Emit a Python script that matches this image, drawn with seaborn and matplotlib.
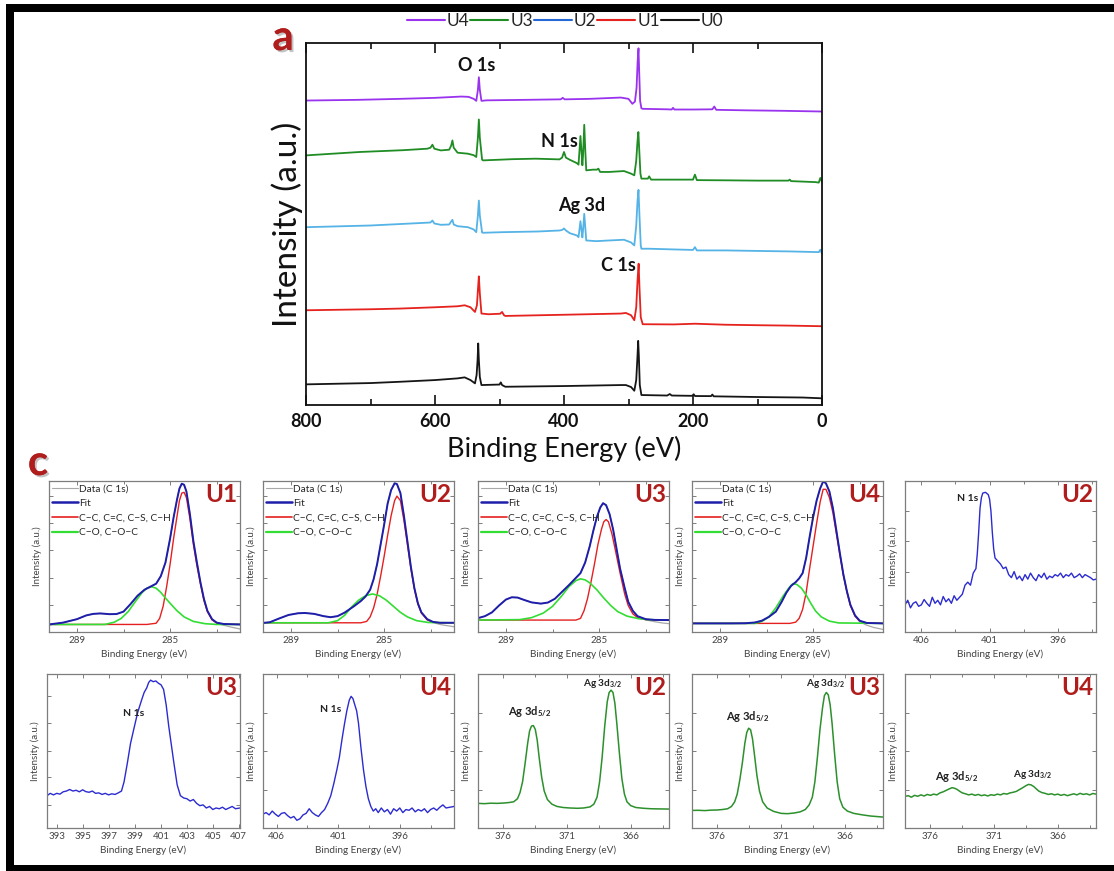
import numpy as np
import matplotlib
matplotlib.use("Agg")
import matplotlib.pyplot as plt
import seaborn as sns
from matplotlib.lines import Line2D
from matplotlib.patches import Rectangle
from matplotlib.ticker import FixedLocator
import matplotlib.patheffects as pe

sns.set_style("ticks")
plt.rcParams["font.family"] = ["Lato", "DejaVu Sans"]
plt.rcParams["mathtext.fontset"] = "custom"
plt.rcParams["mathtext.rm"] = "Lato"
plt.rcParams["mathtext.bf"] = "Lato:bold"
plt.rcParams["mathtext.it"] = "Lato:italic"

# ---------------- survey spectra (panel a) : [binding energy eV, stacked intensity a.u.]
survey_labels = ["U4", "U3", "U2", "U1", "U0"]
survey_U4 = np.array([[800,305.3],[720,306],[654,307],[600,308],[559,309.3],[548,309],[540,307],[536,305],
    [533.5,316],[532,328.7],[530.5,316],[528,305],[520,305.5],[460,306],[405,306.5],[402,308],[399,306.5],
    [360,307],[312,308.3],[300,307],[294,302],[290,304.3],[287.5,318],[285.8,345],[284.5,357.7],[283.5,336],
    [282,305],[280,297.5],[278,297],[240,296.5],[233,296.3],[231,298],[229,296.3],[200,296.3],[170,296.5],
    [167,299.3],[164,296],[120,295.5],[60,295],[0,294.3]])
survey_U3 = np.array([[800,250.3],[717,253.7],[650,255.5],[612,257],[607,258],[604,261],[601,257],[591,255.3],
    [578,256],[575,260],[573,265.3],[571,258],[565,253],[549,252],[540,250.5],[536,248.7],[533.5,268],[532,286.3],
    [530.5,268],[527,246],[525.5,245.3],[480,246.5],[444,247],[407,246.3],[403,248],[400,253.7],[397,248],
    [391,245.9],[380,242.5],[377.5,241],[376,255],[374.5,269.7],[373,255],[371.5,240.4],[370.5,250],[368.6,281],
    [367,255],[365.5,235.3],[355,236],[349,236],[346.7,237],[344,233.7],[330,233.7],[307,234.6],[296,232],
    [291,230.3],[288,245],[286,265],[284.7,273.7],[283.5,258],[281.5,232],[280,227],[270,227],[268,229.3],
    [265,226],[240,226],[200,226],[197,231],[194,225.5],[150,225.3],[100,225],[52,225],[50,226],[48,224.5],
    [10,223.5],[5,223],[2.6,227.7],[0,223.7]])
survey_U2 = np.array([[800,178.3],[700,180],[628,182.3],[607,183],[604,185],[601,182],[591,180.7],[578,181],
    [575,184],[573,185.7],[571,181],[565,179.3],[549,178.3],[540,176],[536,173.3],[533.5,190],[532,205],
    [530.5,190],[527,173],[525.5,172.7],[496,173.3],[440,174],[407,175],[403,175.5],[400,177],[397,175],
    [391,172.3],[380,170],[377.5,168.3],[376,176],[374.5,184.3],[373,176],[371.5,168],[370.5,175],[368.6,191.7],
    [367,178],[365.5,165],[350,164.3],[330,165],[307,165.7],[296,163],[291,160],[288,180],[286,205],
    [284.5,215.7],[283,190],[281,160],[280,156.7],[268,156.7],[230,156],[200,155.5],[197,158.3],[194,155],
    [150,155],[100,154.5],[50,154],[5,153.3],[2.6,155.7],[0,151.7]])
survey_U1 = np.array([[800,95],[700,96],[654,96.7],[600,98],[565,99],[554,100],[545,98],[538,93.3],[535,100],
    [533.5,115],[532,129],[530.5,112],[528,91.7],[517,91],[499,91.5],[496,93.3],[493,90],[491,89.3],[400,90.5],
    [312,91.7],[304,92.3],[296,90],[291,85],[288,98],[286,125],[284.3,141.7],[283,118],[281,88],[278,81],
    [230,80.8],[197,81.5],[150,80.5],[100,80],[50,79.6],[0,79]])
survey_U0 = np.array([[800,20.7],[700,22],[654,23.3],[600,25],[565,26.7],[554,27.7],[545,25],[538,21.7],
    [535.5,30],[534,45],[533,61.7],[532,45],[530.5,28],[528,20],[500,20.5],[498,22.7],[496,20],[491,18.3],
    [400,19],[312,20],[304,20],[296,18],[291,14.3],[288,25],[286,50],[285,64.3],[284,50],[282.5,20],[280,10],
    [240,9.5],[236,11],[233,9.5],[201,9.2],[199,10.8],[197,9],[172,8.9],[170,10.5],[168,8.7],[100,8],[30,7.5],[0,6.7]])
survey_peaks = ["O 1s", "N 1s", "Ag 3d", "C 1s"]

# ---------------- C 1s high resolution (normalised intensity)
c1s_legend = ["Data (C 1s)", "Fit", "C\u2212C, C=C, C\u2212S, C\u2212H", "C\u2212O, C\u2212O\u2212C"]
U1_fit = np.array([[290.2,0.05],[289.6,0.062],[289.0,0.085],[288.6,0.11],[288.3,0.12],[288.0,0.123],[287.6,0.118],
    [287.3,0.119],[287.0,0.135],[286.7,0.185],[286.4,0.24],[286.1,0.28],[285.85,0.30],[285.6,0.32],[285.4,0.37],
    [285.2,0.46],[285.0,0.62],[284.85,0.76],[284.7,0.88],[284.6,0.95],[284.5,0.982],[284.4,0.975],[284.3,0.93],
    [284.15,0.78],[284.0,0.6],[283.85,0.46],[283.7,0.33],[283.55,0.22],[283.4,0.14],[283.2,0.085],[283.0,0.062],
    [282.7,0.053],[282.0,0.05]])
U1_data = np.array([[290.2,0.047],[289.6,0.062],[289.0,0.085],[288.6,0.11],[288.3,0.12],[288.0,0.123],[287.6,0.118],
    [287.3,0.119],[287.0,0.135],[286.7,0.185],[286.4,0.24],[286.1,0.28],[285.85,0.30],[285.6,0.32],[285.4,0.37],
    [285.2,0.46],[285.0,0.62],[284.85,0.76],[284.7,0.88],[284.6,0.95],[284.5,0.982],[284.4,0.975],[284.3,0.93],
    [284.15,0.78],[284.0,0.6],[283.85,0.46],[283.7,0.33],[283.55,0.22],[283.4,0.14],[283.2,0.083],[283.0,0.058],
    [282.7,0.045],[282.4,0.033],[282.0,0.02]])
U1_cc = np.array([[290.2,0.05],[286.0,0.05],[285.6,0.058],[285.45,0.09],[285.3,0.17],[285.15,0.30],[285.0,0.45],
    [284.85,0.62],[284.7,0.77],[284.6,0.87],[284.5,0.92],[284.4,0.925],[284.3,0.89],[284.15,0.75],[284.0,0.58],
    [283.85,0.44],[283.7,0.32],[283.55,0.21],[283.4,0.135],[283.2,0.08],[283.0,0.06],[282.7,0.052],[282.0,0.05]])
U1_co = np.array([[290.2,0.05],[287.8,0.05],[287.4,0.065],[287.1,0.09],[286.8,0.135],[286.5,0.2],[286.2,0.262],
    [286.0,0.29],[285.8,0.30],[285.6,0.29],[285.4,0.262],[285.2,0.225],[285.0,0.19],[284.7,0.14],[284.4,0.1],
    [284.0,0.07],[283.5,0.055],[283.0,0.05],[282.0,0.05]])

U2_fit = np.array([[290.2,0.06],[289.9,0.065],[289.5,0.09],[289.1,0.113],[288.7,0.124],[288.4,0.126],[288.0,0.12],
    [287.6,0.105],[287.3,0.098],[287.0,0.105],[286.7,0.128],[286.3,0.17],[286.0,0.205],[285.8,0.235],[285.6,0.28],
    [285.45,0.35],[285.3,0.45],[285.15,0.58],[285.0,0.71],[284.85,0.85],[284.7,0.94],[284.55,0.985],[284.45,0.98],
    [284.3,0.92],[284.15,0.77],[284.0,0.6],[283.85,0.43],[283.7,0.29],[283.55,0.19],[283.4,0.13],[283.15,0.085],
    [282.9,0.067],[282.6,0.061],[282.0,0.061]])
U2_data = np.array([[290.2,0.058],[289.9,0.065],[289.5,0.09],[289.1,0.113],[288.7,0.124],[288.4,0.126],[288.0,0.12],
    [287.6,0.105],[287.3,0.098],[287.0,0.105],[286.7,0.128],[286.3,0.17],[286.0,0.205],[285.8,0.235],[285.6,0.28],
    [285.45,0.35],[285.3,0.45],[285.15,0.58],[285.0,0.71],[284.85,0.85],[284.7,0.94],[284.55,0.985],[284.45,0.98],
    [284.3,0.92],[284.15,0.77],[284.0,0.6],[283.85,0.43],[283.7,0.29],[283.55,0.19],[283.4,0.13],[283.15,0.083],
    [282.9,0.062],[282.6,0.05],[282.3,0.042],[282.0,0.035]])
U2_cc = np.array([[290.2,0.061],[286.0,0.061],[285.75,0.07],[285.6,0.1],[285.45,0.16],[285.3,0.25],[285.15,0.37],
    [285.0,0.5],[284.85,0.64],[284.7,0.77],[284.55,0.87],[284.45,0.9],[284.3,0.87],[284.15,0.74],[284.0,0.58],
    [283.85,0.42],[283.7,0.285],[283.55,0.185],[283.4,0.125],[283.15,0.08],[282.9,0.065],[282.6,0.061],[282.0,0.061]])
U2_co = np.array([[290.2,0.061],[287.4,0.061],[287.0,0.075],[286.7,0.11],[286.4,0.165],[286.1,0.21],[285.8,0.24],
    [285.5,0.252],[285.2,0.24],[284.9,0.21],[284.6,0.17],[284.3,0.13],[284.0,0.1],[283.6,0.075],[283.1,0.063],
    [282.0,0.061]])

U3_fit = np.array([[290.2,0.092],[289.9,0.105],[289.6,0.13],[289.3,0.175],[289.0,0.215],[288.75,0.23],[288.5,0.228],
    [288.25,0.214],[287.9,0.196],[287.5,0.188],[287.2,0.195],[286.9,0.22],[286.6,0.265],[286.3,0.31],[286.05,0.35],
    [285.8,0.39],[285.6,0.46],[285.4,0.57],[285.25,0.67],[285.1,0.76],[284.95,0.825],[284.83,0.853],[284.7,0.84],
    [284.55,0.78],[284.4,0.68],[284.25,0.55],[284.1,0.42],[283.9,0.29],[283.75,0.2],[283.55,0.14],[283.35,0.105],
    [283.0,0.085],[282.6,0.08],[282.0,0.079]])
U3_data = np.array([[290.2,0.09],[289.9,0.105],[289.6,0.13],[289.3,0.175],[289.0,0.215],[288.75,0.23],[288.5,0.228],
    [288.25,0.214],[287.9,0.196],[287.5,0.188],[287.2,0.195],[286.9,0.22],[286.6,0.265],[286.3,0.31],[286.05,0.35],
    [285.8,0.39],[285.6,0.46],[285.4,0.57],[285.25,0.67],[285.1,0.76],[284.95,0.825],[284.83,0.853],[284.7,0.84],
    [284.55,0.78],[284.4,0.68],[284.25,0.55],[284.1,0.42],[283.9,0.29],[283.75,0.2],[283.55,0.14],[283.35,0.1],
    [283.0,0.08],[282.6,0.068],[282.3,0.06],[282.0,0.055]])
U3_cc = np.array([[290.2,0.079],[286.0,0.079],[285.8,0.09],[285.65,0.14],[285.5,0.22],[285.35,0.33],[285.2,0.45],
    [285.05,0.58],[284.9,0.68],[284.8,0.73],[284.7,0.745],[284.6,0.73],[284.45,0.65],[284.3,0.54],[284.1,0.39],
    [283.9,0.25],[283.75,0.175],[283.55,0.12],[283.35,0.095],[283.0,0.082],[282.0,0.079]])
U3_co = np.array([[290.2,0.079],[288.4,0.082],[287.9,0.095],[287.4,0.125],[287.0,0.17],[286.6,0.24],[286.3,0.30],
    [286.0,0.34],[285.8,0.352],[285.6,0.345],[285.4,0.325],[285.1,0.28],[284.8,0.225],[284.5,0.175],[284.2,0.135],
    [283.8,0.105],[283.3,0.088],[282.8,0.081],[282.0,0.079]])

U4_fit = np.array([[290.2,0.057],[288.5,0.057],[287.9,0.058],[287.5,0.063],[287.2,0.075],[286.9,0.1],[286.6,0.135],
    [286.35,0.2],[286.15,0.26],[285.95,0.305],[285.75,0.33],[285.6,0.355],[285.45,0.39],[285.3,0.49],[285.15,0.63],
    [285.0,0.76],[284.85,0.87],[284.7,0.95],[284.57,0.997],[284.45,0.985],[284.3,0.93],[284.15,0.82],[284.0,0.67],
    [283.85,0.52],[283.7,0.38],[283.55,0.27],[283.4,0.18],[283.2,0.11],[283.0,0.075],[282.7,0.06],[282.0,0.057]])
U4_data = np.array([[290.2,0.057],[288.5,0.057],[287.9,0.058],[287.5,0.063],[287.2,0.075],[286.9,0.1],[286.6,0.135],
    [286.35,0.2],[286.15,0.26],[285.95,0.305],[285.75,0.33],[285.6,0.355],[285.45,0.39],[285.3,0.49],[285.15,0.63],
    [285.0,0.76],[284.85,0.87],[284.7,0.95],[284.57,0.997],[284.45,0.985],[284.3,0.93],[284.15,0.82],[284.0,0.67],
    [283.85,0.52],[283.7,0.38],[283.55,0.27],[283.4,0.18],[283.2,0.105],[283.0,0.068],[282.7,0.045],[282.4,0.03],
    [282.0,0.017]])
U4_cc = np.array([[290.2,0.057],[286.0,0.057],[285.75,0.065],[285.6,0.09],[285.45,0.15],[285.3,0.26],[285.15,0.42],
    [285.0,0.57],[284.85,0.72],[284.7,0.86],[284.57,0.945],[284.45,0.945],[284.3,0.89],[284.15,0.79],[284.0,0.65],
    [283.85,0.51],[283.7,0.375],[283.55,0.265],[283.4,0.175],[283.2,0.105],[283.0,0.072],[282.7,0.06],[282.0,0.057]])
U4_co = np.array([[290.2,0.057],[287.5,0.057],[287.2,0.07],[286.9,0.1],[286.6,0.16],[286.3,0.235],[286.05,0.29],
    [285.87,0.32],[285.7,0.315],[285.5,0.29],[285.3,0.245],[285.1,0.19],[284.9,0.14],[284.65,0.1],[284.3,0.072],
    [283.9,0.06],[282.0,0.057]])

# ---------------- N 1s spectra
N1s_U2 = np.array([[407.2,0.18],[407.0,0.21],[406.8,0.16],[406.6,0.19],[406.4,0.2],[406.2,0.17],[406.0,0.18],
    [405.8,0.215],[405.6,0.19],[405.4,0.17],[405.2,0.23],[405.0,0.19],[404.8,0.21],[404.6,0.18],[404.4,0.235],
    [404.2,0.2],[404.0,0.22],[403.8,0.19],[403.6,0.24],[403.4,0.21],[403.2,0.23],[403.0,0.25],[402.8,0.31],
    [402.6,0.33],[402.4,0.31],[402.2,0.39],[402.0,0.42],[401.9,0.52],[401.8,0.66],[401.7,0.82],[401.6,0.89],
    [401.5,0.92],[401.3,0.925],[401.1,0.91],[401.0,0.88],[400.9,0.8],[400.8,0.66],[400.7,0.55],[400.6,0.49],
    [400.4,0.47],[400.2,0.45],[400.0,0.42],[399.8,0.43],[399.6,0.38],[399.4,0.36],[399.2,0.4],[399.0,0.35],
    [398.8,0.37],[398.6,0.34],[398.4,0.38],[398.2,0.35],[398.0,0.39],[397.8,0.36],[397.6,0.34],[397.4,0.38],
    [397.2,0.36],[397.0,0.39],[396.8,0.35],[396.6,0.37],[396.4,0.36],[396.2,0.38],[396.0,0.37],[395.8,0.39],
    [395.6,0.36],[395.4,0.38],[395.2,0.37],[395.0,0.39],[394.8,0.36],[394.6,0.37],[394.4,0.385],[394.2,0.36],
    [394.0,0.38],[393.8,0.37],[393.6,0.36],[393.4,0.345],[393.2,0.35]])
N1s_U3 = np.array([[392.2,0.21],[392.45,0.225],[392.7,0.215],[392.95,0.225],[393.2,0.22],[393.45,0.235],[393.7,0.24],
    [393.95,0.25],[394.2,0.24],[394.45,0.245],[394.7,0.235],[394.95,0.248],[395.2,0.236],[395.45,0.232],[395.7,0.24],
    [395.95,0.225],[396.2,0.228],[396.45,0.218],[396.7,0.225],[396.95,0.215],[397.2,0.222],[397.45,0.218],
    [397.7,0.228],[397.95,0.24],[398.15,0.3],[398.4,0.42],[398.65,0.55],[398.95,0.66],[399.2,0.75],[399.5,0.83],
    [399.7,0.88],[399.9,0.91],[400.05,0.945],[400.2,0.96],[400.4,0.95],[400.6,0.955],[400.8,0.94],[401.0,0.93],
    [401.2,0.9],[401.4,0.8],[401.6,0.66],[401.8,0.54],[402.0,0.42],[402.25,0.28],[402.5,0.21],[402.75,0.195],
    [403.0,0.19],[403.25,0.175],[403.5,0.185],[403.75,0.16],[404.0,0.145],[404.25,0.15],[404.5,0.13],[404.75,0.14],
    [405.0,0.12],[405.25,0.13],[405.5,0.125],[405.75,0.135],[406.0,0.12],[406.25,0.13],[406.5,0.14],[406.75,0.125],
    [407.1,0.13]])
N1s_U4 = np.array([[407.1,0.09],[406.85,0.1],[406.6,0.085],[406.35,0.11],[406.1,0.09],[405.85,0.075],[405.6,0.095],
    [405.35,0.1],[405.1,0.08],[404.85,0.065],[404.6,0.075],[404.35,0.05],[404.1,0.06],[403.85,0.085],[403.6,0.095],
    [403.35,0.125],[403.1,0.1],[402.85,0.085],[402.6,0.075],[402.35,0.1],[402.1,0.12],[401.85,0.16],[401.6,0.21],
    [401.35,0.29],[401.1,0.38],[400.9,0.46],[400.7,0.57],[400.5,0.67],[400.3,0.76],[400.1,0.83],[399.95,0.855],
    [399.8,0.84],[399.65,0.8],[399.5,0.76],[399.35,0.68],[399.15,0.52],[398.95,0.38],[398.75,0.27],[398.55,0.19],
    [398.35,0.14],[398.15,0.11],[397.95,0.125],[397.75,0.1],[397.5,0.13],[397.25,0.105],[397.0,0.12],[396.75,0.09],
    [396.5,0.125],[396.25,0.11],[396.0,0.13],[395.75,0.1],[395.5,0.12],[395.25,0.115],[395.0,0.13],[394.75,0.105],
    [394.5,0.12],[394.25,0.11],[394.0,0.125],[393.75,0.1],[393.5,0.12],[393.25,0.13],[393.0,0.115],[392.75,0.135],
    [392.5,0.15],[392.25,0.13],[391.6,0.14]])

# ---------------- Ag 3d spectra
Ag_U2 = np.array([[378.0,0.16],[377.5,0.158],[377.0,0.161],[376.5,0.16],[376.0,0.162],[375.6,0.165],[375.2,0.17],
    [374.9,0.19],[374.7,0.23],[374.5,0.3],[374.3,0.42],[374.1,0.55],[373.95,0.63],[373.8,0.662],[373.65,0.665],
    [373.5,0.64],[373.35,0.57],[373.2,0.46],[373.0,0.33],[372.8,0.24],[372.55,0.185],[372.2,0.155],[371.8,0.14],
    [371.3,0.133],[370.8,0.13],[370.2,0.128],[369.7,0.13],[369.2,0.137],[368.9,0.155],[368.65,0.2],[368.45,0.3],
    [368.25,0.46],[368.05,0.66],[367.85,0.82],[367.7,0.88],[367.55,0.895],[367.4,0.88],[367.25,0.81],[367.1,0.68],
    [366.9,0.49],[366.7,0.32],[366.5,0.22],[366.3,0.17],[366.0,0.145],[365.6,0.133],[365.0,0.128],[364.4,0.125],
    [363.8,0.124],[363.0,0.123]])
Ag_U3 = np.array([[378.0,0.114],[377.5,0.115],[377.0,0.113],[376.5,0.116],[376.0,0.117],[375.6,0.12],[375.2,0.125],
    [374.9,0.14],[374.65,0.17],[374.45,0.22],[374.25,0.31],[374.05,0.42],[373.85,0.55],[373.7,0.62],[373.55,0.648],
    [373.4,0.638],[373.25,0.58],[373.1,0.48],[372.9,0.34],[372.7,0.24],[372.45,0.17],[372.1,0.13],[371.6,0.108],
    [371.0,0.095],[370.5,0.093],[370.0,0.097],[369.5,0.105],[369.1,0.12],[368.8,0.15],[368.55,0.2],[368.35,0.3],
    [368.15,0.46],[367.95,0.64],[367.75,0.78],[367.6,0.86],[367.45,0.88],[367.3,0.865],[367.15,0.8],[367.0,0.68],
    [366.8,0.48],[366.6,0.3],[366.4,0.19],[366.15,0.135],[365.8,0.11],[365.3,0.095],[364.6,0.085],[364.0,0.078],
    [363.0,0.071]])
Ag_U4 = np.array([[378.0,0.205],[377.75,0.21],[377.5,0.2],[377.25,0.212],[377.0,0.206],[376.75,0.215],[376.5,0.208],
    [376.25,0.218],[376.0,0.212],[375.75,0.22],[375.5,0.215],[375.25,0.228],[375.0,0.235],[374.75,0.245],[374.5,0.255],
    [374.3,0.262],[374.1,0.258],[373.9,0.25],[373.7,0.238],[373.5,0.228],[373.25,0.222],[373.0,0.215],[372.75,0.22],
    [372.5,0.212],[372.25,0.218],[372.0,0.21],[371.75,0.215],[371.5,0.208],[371.25,0.216],[371.0,0.212],[370.75,0.22],
    [370.5,0.215],[370.25,0.224],[370.0,0.22],[369.75,0.228],[369.5,0.232],[369.25,0.238],[369.0,0.25],[368.75,0.262],
    [368.5,0.275],[368.3,0.283],[368.1,0.28],[367.9,0.27],[367.7,0.255],[367.5,0.24],[367.25,0.23],[367.0,0.225],
    [366.75,0.218],[366.5,0.222],[366.25,0.215],[366.0,0.22],[365.75,0.212],[365.5,0.218],[365.25,0.21],[365.0,0.216],
    [364.75,0.222],[364.5,0.215],[364.25,0.225],[364.0,0.218],[363.75,0.222],[363.5,0.215],[363.25,0.224],[363.0,0.22]])

# ---------------- styling
W, H = 1114, 871
RED = "#b01d1d"
survey_colors = {"U4": "#9a33ee", "U3": "#1f8c24", "U2": "#55b3e6", "U1": "#e5221d", "U0": "#151515"}
legend_colors = {"U4": "#9a33ee", "U3": "#1f8c24", "U2": "#2468d6", "U1": "#e5221d", "U0": "#151515"}
C_DATA, C_FIT, C_CC, C_CO = "#a8a8a8", "#1e1eaa", "#e52020", "#33dd33"
C_N, C_AG = "#2b2bd0", "#2c902c"
GRAY = "#7d7d7d"
TXT = "#444444"

fig = plt.figure(figsize=(W / 100, H / 100), dpi=100)

# black frame (left, top, bottom bands)
for (x0, y0, w, h) in [(6, 4, 8, 867), (6, 4, 1108, 8), (6, 865, 1108, 6)]:
    fig.add_artist(Rectangle((x0 / W, 1 - (y0 + h) / H), w / W, h / H, transform=fig.transFigure,
                             facecolor="black", edgecolor="none", zorder=10))

def fig_axes(left, top, width, height):
    return fig.add_axes([left / W, 1 - (top + height) / H, width / W, height / H])

# ---------------- panel a
ax = fig_axes(306, 43, 516, 362)
for name, arr in zip(survey_labels, [survey_U4, survey_U3, survey_U2, survey_U1, survey_U0]):
    sns.lineplot(x=arr[:, 0], y=arr[:, 1], ax=ax, color=survey_colors[name], linewidth=1.3,
                 sort=False, estimator=None, legend=False)
ax.set_xlim(800, 0)
ax.set_ylim(0, 363)
ax.xaxis.set_major_locator(FixedLocator([800, 600, 400, 200, 0]))
ax.xaxis.set_minor_locator(FixedLocator([700, 500, 300, 100]))
ax.set_yticks([])
ax.tick_params(axis="x", which="both", direction="in", top=True, bottom=True, width=1.2, colors="#111111",
               labelsize=13, pad=6)
ax.tick_params(axis="x", which="major", length=7)
ax.tick_params(axis="x", which="minor", length=4)
for lab in ax.get_xticklabels():
    lab.set_fontweight("bold")
for sp in ax.spines.values():
    sp.set_linewidth(1.3)
    sp.set_color("#111111")
ax.set_xlabel("Binding Energy (eV)", fontsize=19.5, labelpad=4, color="#111111")
ax.set_ylabel("Intensity (a.u.)", fontsize=24, labelpad=2, color="#111111")
peak_pos = [(536, 340, "center"), (378, 264, "right"), (373, 200, "center"), (289, 140, "right")]
for txt, (px, py, ha) in zip(survey_peaks, peak_pos):
    ax.text(px, py, txt, fontsize=13, fontweight="bold", ha=ha, va="center", color="#111111")

handles = [Line2D([], [], color=legend_colors[n], lw=1.5) for n in survey_labels]
fig.legend(handles, survey_labels, loc="center", bbox_to_anchor=(565 / W, 1 - 21 / H), ncol=5, frameon=False,
           fontsize=12.5, handlelength=2.2, handletextpad=0.1, columnspacing=0.05, borderpad=0)

shadow = [pe.withSimplePatchShadow(offset=(1.5, -1.5), shadow_rgbFace="#888888", alpha=0.5), pe.Normal()]
fig.text(283 / W, 1 - 38 / H, "a", fontsize=30, fontweight="bold", color=RED, ha="center", va="center",
         path_effects=shadow)
fig.text(38 / W, 1 - 463 / H, "c", fontsize=30, fontweight="bold", color=RED, ha="center", va="center",
         path_effects=shadow)

# ---------------- small panels
lefts = [49, 263, 478, 692, 905]
ROW1_TOP, ROW1_H = 481, 151
ROW2_TOP, ROW2_H = 674, 154
PW = 191

def style_small(a, xlim, major, minor, yt):
    a.set_xlim(*xlim)
    a.set_ylim(0, 1.0)
    a.xaxis.set_major_locator(FixedLocator(major))
    a.xaxis.set_minor_locator(FixedLocator(minor))
    a.set_yticks(yt)
    a.set_yticklabels([])
    a.tick_params(which="both", direction="in", top=True, right=True, colors=GRAY, labelcolor=TXT,
                  labelsize=7, width=0.7, pad=3)
    a.tick_params(which="major", length=3)
    a.tick_params(which="minor", length=2)
    for sp in a.spines.values():
        sp.set_color(GRAY)
        sp.set_linewidth(0.9)
    a.set_xlabel("Binding Energy (eV)", fontsize=7.2, color=TXT, labelpad=3)
    a.set_ylabel("Intensity (a.u.)", fontsize=7, color=TXT, labelpad=2)

def tag(a, s):
    a.text(0.985, 0.985, s, transform=a.transAxes, ha="right", va="top", fontsize=17.5, fontweight="bold",
           color=RED)

def line(a, arr, color, lw):
    sns.lineplot(x=arr[:, 0], y=arr[:, 1], ax=a, color=color, linewidth=lw, sort=False, estimator=None,
                 legend=False)

c1s_sets = [("U1", U1_data, U1_fit, U1_cc, U1_co), ("U2", U2_data, U2_fit, U2_cc, U2_co),
            ("U3", U3_data, U3_fit, U3_cc, U3_co), ("U4", U4_data, U4_fit, U4_cc, U4_co)]
for i, (name, d, f, cc, co) in enumerate(c1s_sets):
    a = fig_axes(lefts[i], ROW1_TOP, PW, ROW1_H)
    line(a, d, C_DATA, 0.9)
    line(a, cc, C_CC, 1.0)
    line(a, co, C_CO, 1.2)
    line(a, f, C_FIT, 1.4)
    style_small(a, (290.2, 282.0), [289, 285], [287, 283], [0.18, 0.36, 0.54, 0.72, 0.9])
    hs = [Line2D([], [], color=C_DATA, lw=0.8), Line2D([], [], color=C_FIT, lw=1.8),
          Line2D([], [], color=C_CC, lw=1.2), Line2D([], [], color=C_CO, lw=1.6)]
    a.legend(hs, c1s_legend, loc="upper left", frameon=False, fontsize=7.3, handlelength=2.6,
             handletextpad=0.1, labelspacing=0.55, borderaxespad=0.2, borderpad=0.1)
    tag(a, name)

# N 1s U2
a = fig_axes(lefts[4], ROW1_TOP, PW, ROW1_H)
line(a, N1s_U2, C_N, 1.0)
style_small(a, (407.2, 393.2), [406, 401, 396], [403.5, 398.5, 393.5], [0.2, 0.4, 0.6, 0.8])
a.text(401.8, 0.885, "N 1s", fontsize=7.5, fontweight="bold", ha="right", va="center", color="#222222")
tag(a, "U2")

# N 1s U3
a = fig_axes(lefts[0] - 2, ROW2_TOP, PW + 2, ROW2_H)
line(a, N1s_U3, C_N, 1.0)
style_small(a, (392.2, 407.1), [393, 395, 397, 399, 401, 403, 405, 407], [], [0.15, 0.33, 0.5, 0.68, 0.86])
a.text(398.9, 0.745, "N 1s", fontsize=7.5, fontweight="bold", ha="center", va="center", color="#222222")
tag(a, "U3")

# N 1s U4
a = fig_axes(lefts[1], ROW2_TOP, PW, ROW2_H)
line(a, N1s_U4, C_N, 1.0)
style_small(a, (407.1, 391.6), [406, 401, 396], [403.5, 398.5, 393.5], [0.25, 0.5, 0.75])
a.text(401.65, 0.77, "N 1s", fontsize=7.5, fontweight="bold", ha="center", va="center", color="#222222")
tag(a, "U4")

ag_sets = [("U2", Ag_U2, [(373.9, 0.755), (368.2, 0.94)]),
           ("U3", Ag_U3, [(373.6, 0.725), (367.5, 0.935)]),
           ("U4", Ag_U4, [(373.9, 0.335), (368.0, 0.35)])]
for j, (name, arr, pos) in enumerate(ag_sets):
    a = fig_axes(lefts[2 + j], ROW2_TOP, PW, ROW2_H)
    line(a, arr, C_AG, 1.1)
    style_small(a, (378.0, 363.0), [376, 371, 366], [373.5, 368.5, 363.5], [0.25, 0.5, 0.75])
    a.text(pos[0][0], pos[0][1], r"Ag 3d$_{\mathbf{5/2}}$", fontsize=8, fontweight="bold", ha="center",
           va="center", color="#222222")
    a.text(pos[1][0], pos[1][1], r"Ag 3d$_{\mathbf{3/2}}$", fontsize=7.2, fontweight="bold", ha="center",
           va="center", color="#222222")
    tag(a, name)

fig.savefig("out.png", dpi=100)
